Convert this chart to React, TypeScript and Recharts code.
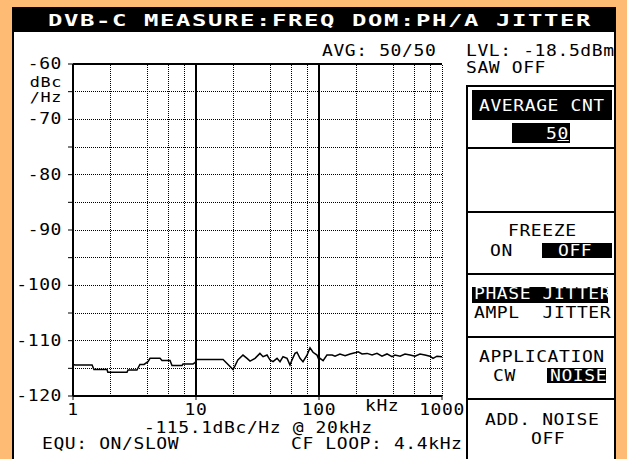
import React from "react";
import { LineChart, Line, XAxis, YAxis, ReferenceLine } from "recharts";

// trace, kHz vs dBc/Hz
const FREQ_KHZ = [
  1, 1.04, 1.43, 1.48, 1.89, 1.92, 2.75, 2.8, 3.31, 3.5,
  3.78, 4.07, 4.23, 5.1, 5.29, 6.15, 6.38, 7.7, 7.84, 9.46,
  9.9, 10, 16.6, 20, 20.7, 21.9, 24.1, 26, 27.5, 30.2,
  33.1, 35.1, 37.8, 40, 42.3, 45.6, 48.2, 51, 55, 58.1,
  60.3, 63.8, 66.2, 70.1, 74.1, 79.9, 84.5, 89.4, 96.3, 100,
  102, 108, 116, 128, 135, 148, 163, 179, 196, 208,
  224, 246, 270, 296, 325, 357, 392, 415, 456, 500,
  550, 603, 662, 727, 798, 845, 910, 1000,
];
const JITTER_DBC = [
  -114.3, -114.4, -114.4, -115.2, -115.2, -115.7, -115.7, -115.3, -115.3, -114.3,
  -114.3, -113.8, -113.2, -113.2, -113.6, -113.6, -114.5, -114.5, -114.2, -114.2,
  -113.9, -113.4, -113.4, -115.2, -114.6, -113.5, -112.6, -113.2, -113.7, -113.2,
  -112.3, -112.9, -112.6, -113.5, -113.8, -113.2, -113.8, -112.9, -113.2, -114.4,
  -113.5, -112.3, -112.1, -113.2, -113.8, -112.6, -111.3, -112.1, -112.6, -113.5,
  -113.2, -113.6, -112.6, -112.6, -112.8, -112.4, -112.7, -112.4, -112.2, -112.0,
  -112.4, -112.3, -112.6, -112.3, -112.8, -112.4, -112.9, -112.6, -112.8, -112.4,
  -112.6, -112.8, -112.4, -112.6, -112.8, -113.2, -112.8, -112.9,
];

const X_TICKS = [1, 10, 100, 1000];
const Y_TICKS = [-120, -115, -110, -105, -100, -95, -90, -85, -80, -75, -70, -65, -60];
const MINOR_FREQS = [2, 4, 6, 8, 20, 40, 60, 80, 200, 400, 600, 800];
const DECADE_FREQS = [10, 100];
const DOTTED_LEVELS = [-65, -70, -75, -80, -85, -90, -95, -100, -105, -110, -115];

const data = FREQ_KHZ.map((f, i) => ({ f, db: JITTER_DBC[i] }));

const ORANGE = "#fdbb74";
const MONO = "'DejaVu Sans Mono', 'Liberation Mono', monospace";

const SvgMono = ({ x, y, text, anchor = "middle", size = 15 }: any) => (
  <text
    transform={`translate(${x},${y}) scale(1.2,1)`}
    textAnchor={anchor}
    dominantBaseline="central"
    fontFamily={MONO}
    fontSize={size}
    letterSpacing={0.5}
    fill="#000"
  >
    {text}
  </text>
);

const YTick = (props: any) => {
  const { x, y, payload } = props;
  const v = payload.value;
  if (v === -65) {
    return (
      <g>
        <SvgMono x={x} y={y - 9} text="dBc" anchor="end" size={14} />
        <SvgMono x={x} y={y + 6} text="/Hz" anchor="end" size={14} />
      </g>
    );
  }
  if (v % 10 !== 0) return <g />;
  return <SvgMono x={x} y={y} text={String(v)} anchor="end" />;
};

const XTick = (props: any) => {
  const { x, y, payload } = props;
  return <SvgMono x={x} y={y + 8} text={String(payload.value)} />;
};

// small screen text, pixel-ish mono
const Txt = ({ x, cy, children, color = "#000" }: any) => (
  <div
    style={{
      position: "absolute",
      left: x,
      top: cy - 8,
      fontFamily: MONO,
      fontSize: 15,
      lineHeight: "16px",
      letterSpacing: 0.5,
      whiteSpace: "pre",
      color,
      transform: "scaleX(1.2)",
      transformOrigin: "left center",
    }}
  >
    {children}
  </div>
);

const Box = ({ x, y, w, h, bg = "#000" }: any) => (
  <div style={{ position: "absolute", left: x, top: y, width: w, height: h, background: bg }} />
);

export default function App() {
  return (
    <div style={{ position: "fixed", left: 0, top: 0, width: 627, height: 459, background: ORANGE, overflow: "hidden" }}>
      {/* screen frame */}
      <Box x={12} y={32} w={604} h={427} bg="#fff" />
      <Box x={12} y={7} w={604} h={25} />
      <Box x={12} y={32} w={2} h={427} />
      <Box x={614} y={32} w={2} h={427} />

      {/* softkey panel */}
      <Box x={466} y={85} w={2} h={374} />
      {[85, 147, 211, 273, 336, 398].map((y) => (
        <Box key={y} x={466} y={y} w={150} h={2} />
      ))}
      <Box x={472} y={90} w={140} h={30} />
      <Box x={512} y={123} w={58} h={20} />
      <Box x={542} y={243} w={70} h={15} />
      <Box x={472} y={287} w={136} h={16} />
      <Box x={547} y={368} w={59} h={15} />

      <div style={{ position: "absolute", left: 0, top: 0 }}>
        <LineChart width={627} height={459} data={data} margin={{ top: 64, right: 185, bottom: 33, left: 23 }}>
          {DOTTED_LEVELS.map((v) => (
            <ReferenceLine key={"h" + v} y={v} stroke="#000" strokeDasharray="1 1" shapeRendering="crispEdges" />
          ))}
          {MINOR_FREQS.map((f) => (
            <ReferenceLine key={"v" + f} x={f} stroke="#000" strokeDasharray="1 1" shapeRendering="crispEdges" />
          ))}
          <ReferenceLine x={1000} stroke="#000" strokeDasharray="1 1" shapeRendering="crispEdges" />
          {DECADE_FREQS.map((f) => (
            <ReferenceLine key={"d" + f} x={f} stroke="#000" strokeWidth={2} />
          ))}
          <ReferenceLine y={-60} stroke="#000" strokeWidth={2} />
          <XAxis
            dataKey="f"
            type="number"
            scale="log"
            domain={[1, 1000]}
            ticks={X_TICKS}
            allowDataOverflow
            height={30}
            axisLine={{ stroke: "#000", strokeWidth: 2 }}
            tickLine={{ stroke: "#000" }}
            tickSize={4}
            tickMargin={2}
            tick={<XTick />}
          />
          <YAxis
            type="number"
            domain={[-120, -60]}
            ticks={Y_TICKS}
            width={50}
            axisLine={{ stroke: "#000", strokeWidth: 2 }}
            tickLine={{ stroke: "#000" }}
            tickSize={5}
            tickMargin={6}
            tick={<YTick />}
            interval={0}
          />
          <Line type="linear" dataKey="db" stroke="#000" strokeWidth={1.5} dot={false} isAnimationActive={false} />
        </LineChart>
      </div>

      {/* title */}
      <div
        style={{
          position: "absolute",
          left: 48,
          top: 11,
          fontFamily: MONO,
          fontSize: 16.5,
          fontWeight: "bold",
          lineHeight: "20px",
          letterSpacing: 1.1,
          whiteSpace: "pre",
          color: "#fff",
          transform: "scaleX(1.45)",
          transformOrigin: "left center",
        }}
      >
        DVB-C MEASURE:FREQ DOM:PH/A JITTER
      </div>

      <Txt x={322} cy={51}>AVG: 50/50</Txt>
      <Txt x={466} cy={51}>LVL: -18.5dBm</Txt>
      <Txt x={466} cy={68}>SAW OFF</Txt>
      <Txt x={479} cy={106} color="#fff">AVERAGE CNT</Txt>
      <Txt x={546} cy={134} color="#fff">
        5<span style={{ textDecoration: "underline" }}>0</span>
      </Txt>
      <Txt x={508} cy={231}>FREEZE</Txt>
      <Txt x={490} cy={251}>ON</Txt>
      <Txt x={558} cy={251} color="#fff">OFF</Txt>
      <Txt x={474} cy={294} color="#fff">PHASE JITTER</Txt>
      <Txt x={474} cy={313}>AMPL  JITTER</Txt>
      <Txt x={479} cy={357}>APPLICATION</Txt>
      <Txt x={493} cy={376}>CW</Txt>
      <Txt x={550} cy={376} color="#fff">NOISE</Txt>
      <Txt x={485} cy={420}>ADD. NOISE</Txt>
      <Txt x={531} cy={439}>OFF</Txt>

      <Txt x={365} cy={406}>kHz</Txt>
      <Txt x={144} cy={428}>-115.1dBc/Hz @ 20kHz</Txt>
      <Txt x={42} cy={444}>EQU: ON/SLOW</Txt>
      <Txt x={291} cy={444}>CF LOOP: 4.4kHz</Txt>
    </div>
  );
}
